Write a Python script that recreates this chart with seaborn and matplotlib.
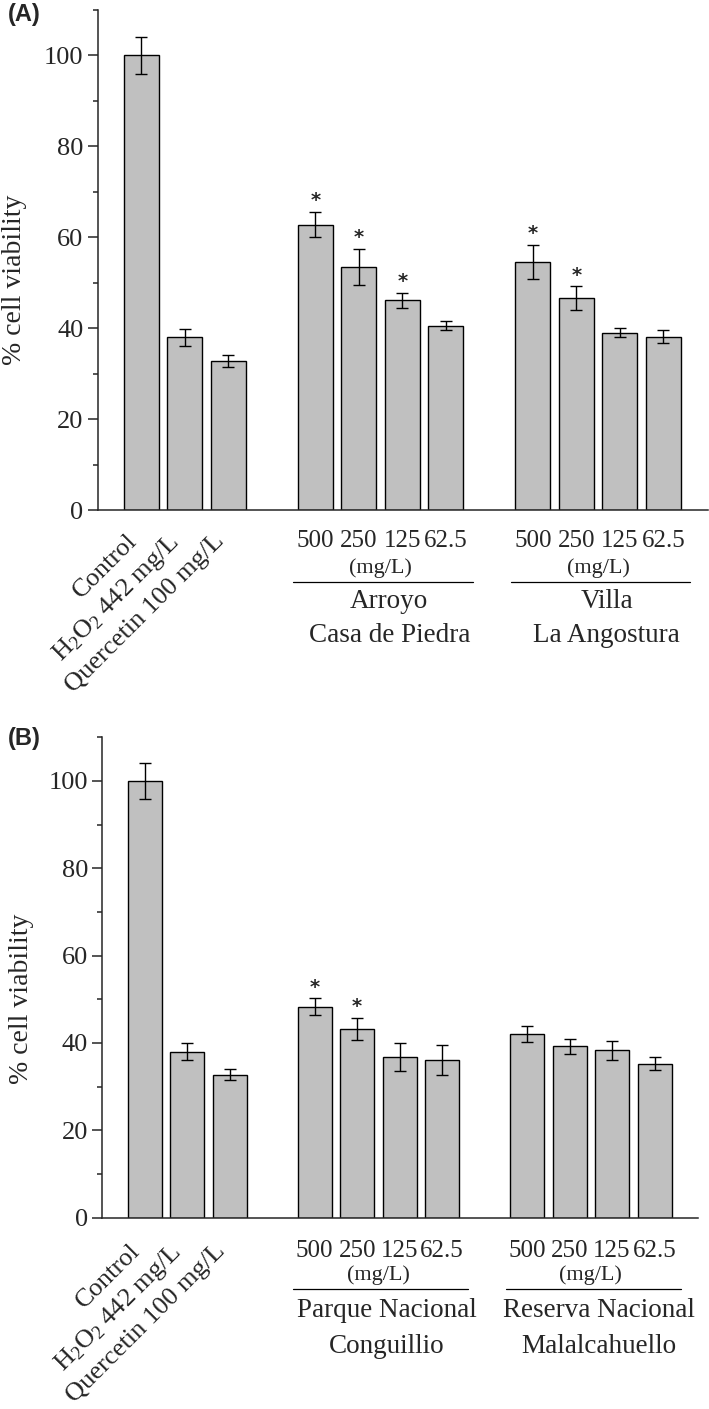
import numpy as np
import pandas as pd
import seaborn as sns
import matplotlib.pyplot as plt
import matplotlib.transforms as mtransforms
from matplotlib.ticker import MultipleLocator

# values (mean, error, significance)
controls = ['Control', 'H$_2$O$_2$ 442 mg/L', 'Quercetin 100 mg/L']
doses = ['500', '250', '125', '62.5']

ctrl_mean = [100.0, 38.0, 32.7]
ctrl_err = [4.1, 1.9, 1.3]

sites_a = [('Arroyo', 'Casa de Piedra'), ('Villa', 'La Angostura')]
site_a_mean = [[62.8, 53.5, 46.1, 40.5], [54.6, 46.6, 39.0, 38.1]]
site_a_err = [[2.8, 4.0, 1.7, 1.0], [3.7, 2.6, 1.0, 1.4]]
site_a_sig = [[1, 1, 1, 0], [1, 1, 0, 0]]

sites_b = [('Parque Nacional', 'Conguillio'), ('Reserva Nacional', 'Malalcahuello')]
site_b_mean = [[48.3, 43.2, 36.7, 36.1], [42.1, 39.2, 38.3, 35.2]]
site_b_err = [[1.9, 2.5, 3.2, 3.4], [1.8, 1.7, 2.2, 1.5]]
site_b_sig = [[1, 1, 0, 0], [0, 0, 0, 0]]

sns.set_style('ticks')
plt.rcParams['font.family'] = ['Liberation Serif', 'DejaVu Serif']
plt.rcParams['mathtext.default'] = 'regular'


def draw_panel(ax, sites, means, errs, sigs, pad, offs):
    """offs: pixel distances below the x axis for (mg/L), rule, site line 1, site line 2"""
    xs = list(range(len(controls)))
    ys = list(ctrl_mean)
    es = list(ctrl_err)
    ss = [0] * len(controls)
    labels = list(controls)
    groups = []
    for g in range(len(sites)):
        start = len(controls) + 1 + g * (len(doses) + 1)
        gx = [start + i for i in range(len(doses))]
        groups.append(gx)
        xs += gx
        ys += means[g]
        es += errs[g]
        ss += sigs[g]
        labels += doses
    df = pd.DataFrame({'x': xs, 'y': ys, 'err': es, 'sig': ss})

    sns.barplot(data=df, x='x', y='y', native_scale=True, color='#c0c0c0',
                saturation=1, edgecolor='black', linewidth=1.0, width=0.8,
                errorbar=None, ax=ax)
    ax.errorbar(df['x'], df['y'], yerr=df['err'], fmt='none', ecolor='black',
                elinewidth=1.0, capsize=4.3, capthick=1.0, zorder=5)
    for _, r in df[df['sig'] == 1].iterrows():
        ax.annotate('*', (r['x'], r['y'] + r['err']), xytext=(0, 8),
                    textcoords='offset points', ha='center', va='center',
                    fontsize=14, fontweight='bold', family='DejaVu Sans')

    ax.set_xlim(-1.0, 13.03)
    ax.set_ylim(0, 110)
    ax.yaxis.set_major_locator(MultipleLocator(20))
    ax.yaxis.set_minor_locator(MultipleLocator(10))
    ax.set_xticks(xs)
    ax.set_xticklabels(labels)
    for i, t in enumerate(ax.get_xticklabels()):
        if i < len(controls):
            t.set_rotation(45)
            t.set_ha('right')
            t.set_fontsize(19)
        else:
            t.set_fontsize(18)
    ax.tick_params(axis='x', length=0, pad=pad)
    ax.tick_params(axis='y', which='major', direction='out', length=7, width=1.1,
                   labelsize=19, pad=3.3)
    ax.tick_params(axis='y', which='minor', direction='out', length=3.6, width=1.1)
    ax.set_xlabel('')
    ax.set_ylabel('% cell viability', fontsize=20)
    sns.despine(ax=ax)
    for s in ['left', 'bottom']:
        ax.spines[s].set_linewidth(1.1)

    trans = mtransforms.blended_transform_factory(ax.transData, ax.transAxes)
    h = ax.bbox.height
    for gx, (l1, l2) in zip(groups, sites):
        cx = (gx[0] + gx[-1]) / 2
        ax.text(cx, -offs[0] / h, '(mg/L)', transform=trans, ha='center',
                va='center', fontsize=16)
        ax.plot([gx[0] - 0.5, gx[-1] + 0.62], [-offs[1] / h] * 2, transform=trans,
                color='black', lw=0.9, clip_on=False)
        ax.text(cx + 0.2, -offs[2] / h, l1, transform=trans, ha='center',
                va='center', fontsize=19.5)
        ax.text(cx + 0.2, -offs[3] / h, l2, transform=trans, ha='center',
                va='center', fontsize=19.5)


fig = plt.figure(figsize=(7.09, 14.09), dpi=100)
ax_a = fig.add_axes([0.1378, 0.638, 0.861, 0.3549])
ax_b = fig.add_axes([0.1443, 0.1359, 0.8406, 0.3408])

draw_panel(ax_a, sites_a, site_a_mean, site_a_err, site_a_sig, 14, (58, 71.7, 91.7, 125))
draw_panel(ax_b, sites_b, site_b_mean, site_b_err, site_b_sig, 16, (57.5, 71.8, 92.5, 129))

ax_a.yaxis.set_label_coords(-0.116, 0.46)
ax_b.yaxis.set_label_coords(-0.115, 0.455)

fig.text(8 / 709, 1 - 15 / 1409, '(A)', ha='left', va='center', fontsize=17,
         fontweight='bold', family='Liberation Sans')
fig.text(8 / 709, 1 - 739 / 1409, '(B)', ha='left', va='center', fontsize=17,
         fontweight='bold', family='Liberation Sans')

fig.savefig('out.png', dpi=100)
